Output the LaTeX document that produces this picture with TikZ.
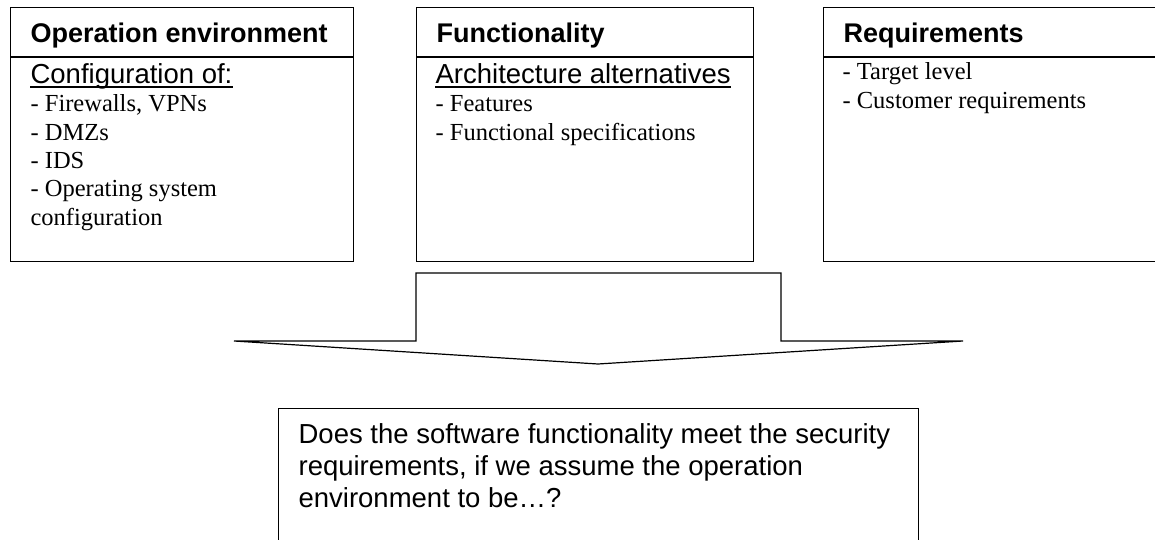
\documentclass[tikz,border=0pt]{standalone}
\usepackage{fontspec}
\setmainfont{Liberation Serif}
\setsansfont{Liberation Sans}
\usetikzlibrary{positioning}

\begin{document}
\begin{tikzpicture}[x=1pt,y=-1pt,line width=1.2pt,
 panel/.style={draw,anchor=north west,minimum width=343pt,minimum height=254pt,inner sep=0pt},
 head/.style={anchor=base west,inner sep=0pt,font=\sffamily\bfseries\fontsize{27pt}{32pt}\selectfont},
 sub/.style={anchor=base west,inner sep=0pt,font=\sffamily\fontsize{27.5pt}{32pt}\selectfont},
 item/.style={anchor=base west,inner sep=0pt,font=\fontsize{24.5pt}{28pt}\selectfont},
 ask/.style={anchor=base west,inner sep=0pt,font=\sffamily\fontsize{27.5pt}{32pt}\selectfont},
 uline/.style={line width=1.6pt}]
\useasboundingbox (0,0) rectangle (1155,540);
\clip (0,0) rectangle (1155,540);
% the three panels
\node[panel] (env) at (10,7) {};
\node[panel,minimum width=337pt] (fun) at (416,7) {};
\node[panel] (req) at (823,7) {};
\foreach \p in {env,fun,req}
  \draw ([yshift=-50pt]\p.north west) -- ([yshift=-50pt]\p.north east);
\node[head] (envh) at (30,43) {Operation environment};
\node[head] (funh) at (436,43) {Functionality};
\node[head] (reqh) at (843,43) {Requirements};
% underlined sub titles
\node[sub] (envs) at (30,84) {Configuration of:};
\node[sub] (funs) at (435,84) {Architecture alternatives};
\foreach \s in {envs,funs}
  \draw[uline] ([yshift=-3pt]\s.base west) -- ([yshift=-3pt]\s.base east);
% lists
\foreach \t [count=\i] in {{- Firewalls, VPNs},- DMZs,- IDS,- Operating system,configuration}
  \node[item] (envl\i) at (30,{112+28.3*(\i-1)}) {\t};
\foreach \t [count=\i] in {- Features,- Functional specifications}
  \node[item] (funl\i) at (435,{112+28.3*(\i-1)}) {\t};
\foreach \t [count=\i] in {- Target level,- Customer requirements}
  \node[item] (reql\i) at (842,{80+28.3*(\i-1)}) {\t};
% block arrow
\draw (416,273) -- (781,273) -- (781,341) -- (963,341) -- (598,364)
  -- (234,341) -- (416,341) -- cycle;
% question box
\node[panel,minimum width=640pt,minimum height=200pt] (q) at (278,408) {};
\node[ask] (q1) at (298,443) {Does the software functionality meet the security};
\node[ask] (q2) at (298,475) {requirements, if we assume the operation};
\node[ask] (q3) at (298,507) {environment to be…?};
\end{tikzpicture}
\end{document}
